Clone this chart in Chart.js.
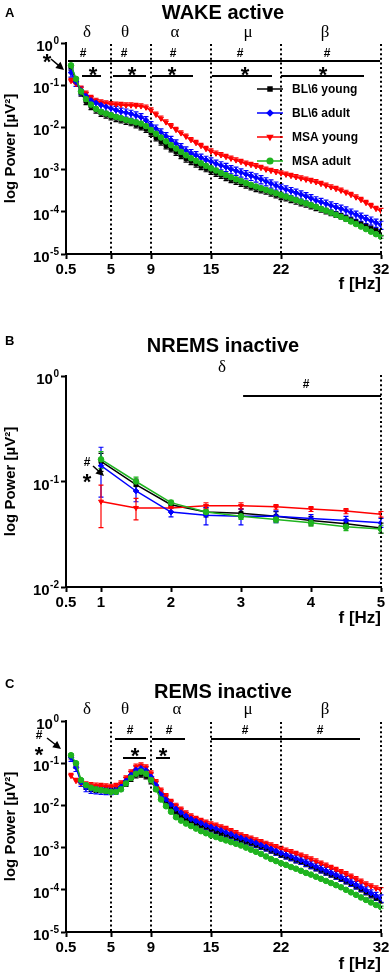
<!DOCTYPE html>
<html>
<head>
<meta charset="utf-8">
<script src="https://cdn.jsdelivr.net/npm/chart.js@4.4.1/dist/chart.umd.min.js"></script>
<style>
  html, body { margin: 0; padding: 0; background: #fff; }
  .panel { position: absolute; left: 0; width: 392px; }
  canvas { display: block; }
</style>
</head>
<body>
<div class="panel" style="top:0;height:300px"><canvas id="cA" width="392" height="300"></canvas></div>
<div class="panel" style="top:300px;height:340px"><canvas id="cB" width="392" height="340"></canvas></div>
<div class="panel" style="top:640px;height:337px"><canvas id="cC" width="392" height="337"></canvas></div>
<script>
// ---- data (power values as log10) ----
const seriesNames = ['BL\\6 young', 'BL\\6 adult', 'MSA young', 'MSA adult'];

const freqs = [1, 1.5, 2, 2.5, 3, 3.5, 4, 4.5, 5, 5.5,
  6, 6.5, 7, 7.5, 8, 8.5, 9, 9.5, 10, 10.5,
  11, 11.5, 12, 12.5, 13, 13.5, 14, 14.5, 15, 15.5,
  16, 16.5, 17, 17.5, 18, 18.5, 19, 19.5, 20, 20.5,
  21, 21.5, 22, 22.5, 23, 23.5, 24, 24.5, 25, 25.5,
  26, 26.5, 27, 27.5, 28, 28.5, 29, 29.5, 30, 30.5,
  31, 31.5, 32];
const freqsB = [1, 1.5, 2, 2.5, 3, 3.5, 4, 4.5, 5];

const xTicksAC = [0.5, 5, 9, 15, 22, 32];
const xTicksB = [0.5, 1, 2, 3, 4, 5];
const yTicksAC = [1, 0.1, 0.01, 0.001, 0.0001, 0.00001];
const yTicksB = [1, 0.1, 0.01];

// WAKE active
const wakeBL6Young = [-0.56, -0.88, -1.18, -1.38, -1.50, -1.58, -1.66, -1.70, -1.74, -1.78,
  -1.81, -1.85, -1.88, -1.93, -1.98, -2.04, -2.13, -2.24, -2.34, -2.43,
  -2.50, -2.58, -2.66, -2.74, -2.80, -2.86, -2.92, -2.97, -3.03, -3.08,
  -3.13, -3.18, -3.23, -3.27, -3.32, -3.36, -3.40, -3.44, -3.47, -3.50,
  -3.55, -3.59, -3.63, -3.66, -3.70, -3.74, -3.78, -3.81, -3.85, -3.89,
  -3.93, -3.97, -4.01, -4.05, -4.09, -4.14, -4.19, -4.24, -4.29, -4.34,
  -4.39, -4.44, -4.49];
const wakeBL6Adult = [-0.70, -0.92, -1.12, -1.26, -1.36, -1.42, -1.47, -1.51, -1.55, -1.59,
  -1.63, -1.65, -1.68, -1.72, -1.76, -1.83, -1.95, -2.03, -2.12, -2.21,
  -2.30, -2.38, -2.47, -2.55, -2.61, -2.66, -2.72, -2.77, -2.81, -2.86,
  -2.90, -2.94, -2.99, -3.03, -3.07, -3.11, -3.15, -3.19, -3.23, -3.28,
  -3.33, -3.38, -3.43, -3.47, -3.51, -3.55, -3.59, -3.63, -3.68, -3.73,
  -3.77, -3.81, -3.85, -3.89, -3.93, -3.97, -4.02, -4.07, -4.12, -4.17,
  -4.21, -4.26, -4.31];
const wakeMSAYoung = [-0.90, -0.97, -1.08, -1.20, -1.30, -1.37, -1.41, -1.43, -1.45, -1.46,
  -1.47, -1.48, -1.48, -1.49, -1.50, -1.53, -1.60, -1.70, -1.79, -1.88,
  -1.97, -2.06, -2.14, -2.22, -2.30, -2.37, -2.44, -2.51, -2.57, -2.62,
  -2.66, -2.70, -2.74, -2.78, -2.82, -2.86, -2.89, -2.92, -2.96, -3.00,
  -3.03, -3.06, -3.09, -3.12, -3.15, -3.18, -3.21, -3.24, -3.27, -3.30,
  -3.34, -3.38, -3.42, -3.46, -3.50, -3.55, -3.60, -3.66, -3.72, -3.79,
  -3.86, -3.93, -3.98];
const wakeMSAAdult = [-0.53, -0.85, -1.15, -1.33, -1.46, -1.56, -1.63, -1.67, -1.71, -1.75,
  -1.78, -1.82, -1.85, -1.88, -1.91, -1.97, -2.06, -2.15, -2.24, -2.33,
  -2.42, -2.50, -2.58, -2.66, -2.73, -2.79, -2.85, -2.91, -2.97, -3.02,
  -3.08, -3.13, -3.18, -3.23, -3.27, -3.32, -3.36, -3.40, -3.44, -3.48,
  -3.52, -3.56, -3.60, -3.64, -3.68, -3.72, -3.76, -3.80, -3.84, -3.88,
  -3.93, -3.97, -4.02, -4.07, -4.12, -4.17, -4.23, -4.29, -4.35, -4.41,
  -4.47, -4.53, -4.59];

// NREMS inactive
const nremBL6Young = [-0.81, -1.03, -1.22, -1.29, -1.30, -1.33, -1.37, -1.40, -1.44];
const nremBL6Adult = [-0.85, -1.09, -1.29, -1.32, -1.33, -1.33, -1.35, -1.37, -1.39];
const nremMSAYoung = [-1.19, -1.25, -1.25, -1.23, -1.23, -1.24, -1.26, -1.28, -1.31];
const nremMSAAdult = [-0.79, -1.00, -1.20, -1.29, -1.33, -1.36, -1.39, -1.43, -1.45];
// NREMS standard errors (linear units)
const nremSemBL6Young = [0.030, 0.012, 0.004, 0.005, 0.005, 0.005, 0.004, 0.004, 0.004];
const nremSemBL6Adult = [0.070, 0.017, 0.005, 0.009, 0.008, 0.006, 0.004, 0.004, 0.004];
const nremSemMSAYoung = [0.028, 0.013, 0.004, 0.004, 0.004, 0.003, 0.003, 0.003, 0.003];
const nremSemMSAAdult = [0.030, 0.010, 0.003, 0.003, 0.003, 0.003, 0.003, 0.003, 0.003];

// REMS inactive
const remBL6Young = [-0.83, -1.05, -1.42, -1.55, -1.60, -1.62, -1.63, -1.64, -1.64, -1.63,
  -1.58, -1.48, -1.36, -1.28, -1.26, -1.30, -1.42, -1.60, -1.78, -1.92,
  -2.04, -2.14, -2.24, -2.31, -2.37, -2.42, -2.47, -2.51, -2.56, -2.60,
  -2.64, -2.68, -2.72, -2.77, -2.81, -2.85, -2.89, -2.93, -2.97, -3.01,
  -3.06, -3.11, -3.16, -3.20, -3.24, -3.29, -3.33, -3.38, -3.43, -3.48,
  -3.53, -3.58, -3.63, -3.68, -3.73, -3.79, -3.85, -3.91, -3.98, -4.05,
  -4.12, -4.18, -4.24];
const remBL6Adult = [-0.86, -1.10, -1.45, -1.58, -1.62, -1.63, -1.64, -1.65, -1.65, -1.64,
  -1.56, -1.42, -1.28, -1.16, -1.12, -1.17, -1.32, -1.52, -1.74, -1.86,
  -1.98, -2.08, -2.17, -2.25, -2.32, -2.37, -2.42, -2.47, -2.51, -2.55,
  -2.59, -2.64, -2.68, -2.73, -2.77, -2.81, -2.85, -2.89, -2.94, -2.98,
  -3.03, -3.08, -3.13, -3.17, -3.21, -3.26, -3.30, -3.35, -3.40, -3.45,
  -3.50, -3.55, -3.60, -3.65, -3.70, -3.76, -3.82, -3.88, -3.94, -4.01,
  -4.08, -4.14, -4.20];
const remMSAYoung = [-1.30, -1.42, -1.48, -1.50, -1.52, -1.53, -1.54, -1.55, -1.56, -1.54,
  -1.48, -1.36, -1.22, -1.08, -1.05, -1.10, -1.24, -1.45, -1.65, -1.78,
  -1.92, -2.01, -2.10, -2.19, -2.26, -2.32, -2.37, -2.41, -2.45, -2.48,
  -2.52, -2.56, -2.61, -2.66, -2.71, -2.75, -2.79, -2.83, -2.87, -2.91,
  -2.95, -2.99, -3.03, -3.07, -3.11, -3.15, -3.19, -3.23, -3.28, -3.33,
  -3.38, -3.43, -3.48, -3.53, -3.58, -3.63, -3.69, -3.75, -3.81, -3.87,
  -3.92, -3.97, -4.01];
const remMSAAdult = [-0.81, -1.00, -1.40, -1.52, -1.58, -1.62, -1.64, -1.66, -1.68, -1.68,
  -1.62, -1.48, -1.35, -1.25, -1.20, -1.25, -1.40, -1.62, -1.86, -2.02,
  -2.15, -2.28, -2.36, -2.43, -2.49, -2.55, -2.61, -2.66, -2.71, -2.75,
  -2.79, -2.83, -2.87, -2.91, -2.95, -3.00, -3.05, -3.10, -3.15, -3.21,
  -3.27, -3.32, -3.37, -3.41, -3.46, -3.50, -3.55, -3.60, -3.64, -3.69,
  -3.74, -3.79, -3.84, -3.89, -3.94, -4.00, -4.06, -4.12, -4.18, -4.24,
  -4.30, -4.36, -4.41];

// relative SEM per group (wake, rem), estimated from error bar lengths
const wakeSemFrac = [0.17, 0.22, 0.15, 0.08];
const remSemFrac = [0.15, 0.20, 0.15, 0.06];

// frequency bands and significance marks (Hz)
const bandEdges = [5, 9, 15, 22, 32];
const bandNames = ['δ', 'θ', 'α', 'μ', 'β'];
const wakeBandAt = [2.6, 6.4, 11.4, 18.7, 26.4];
const remBandAt = [2.6, 6.4, 11.6, 18.7, 26.4];
const wakeHashBars = [[0.7, 31.9]];
const wakeHashAt = [2.2, 6.3, 11.2, 17.9, 26.6];
const wakeStarBars = [[2.1, 4.0], [5.2, 8.5], [9.1, 13.2], [15.1, 21.1], [22.0, 30.3]];
const wakeStarAt = [3.2, 7.1, 11.1, 18.4, 26.2];
const nremHashBars = [[3.03, 5.0]];
const nremHashAt = [3.93];
const remHashBars = [[5.4, 8.7], [9.1, 12.4], [15.0, 29.9]];
const remHashAt = [6.9, 10.8, 18.4, 25.9];
const remStarBars = [[6.2, 8.5], [9.5, 10.9]];
const remStarAt = [7.4, 10.2];

// ---- styling ----
const COLORS = ['#000000', '#0000ff', '#ff0000', '#1fb41f'];
const STYLES = ['rect', 'rectRot', 'triangle', 'circle'];
const ROTS = [0, 0, 180, 0];
const ORDERS = [3, 1, 2, 0];
const ERR_DIR = [-1, 0, 1, 0];   // -1 down only, 1 up only, 0 both
const FONT = '"Liberation Sans", Arial, sans-serif';
Chart.defaults.font.family = FONT;
Chart.defaults.color = '#000';

function series(i, xs, lg, sem) {
  const vals = lg.map(v => Math.pow(10, v));
  return {
    label: seriesNames[i],
    data: xs.map((x, j) => ({ x: x, y: vals[j] })),
    borderColor: COLORS[i], backgroundColor: COLORS[i],
    borderWidth: 1.5, pointRadius: 2.8, pointBorderWidth: 1,
    pointStyle: STYLES[i], pointRotation: ROTS[i],
    tension: 0, order: ORDERS[i],
    sem: Array.isArray(sem) ? sem : vals.map(v => v * sem),
    errDir: ERR_DIR[i]
  };
}

const errorBars = {
  id: 'errorBars',
  beforeDatasetsDraw(chart) {
    const { ctx, scales: { y } } = chart;
    ctx.save();
    ctx.lineWidth = 1.2;
    chart.data.datasets.forEach((ds, i) => {
      const meta = chart.getDatasetMeta(i);
      ctx.strokeStyle = ds.borderColor;
      meta.data.forEach((pt, j) => {
        const v = ds.data[j].y, s = ds.sem[j];
        const yTop = ds.errDir >= 0 ? y.getPixelForValue(v + s) : pt.y;
        const yBot = ds.errDir <= 0 ? y.getPixelForValue(Math.max(v - s, 1e-9)) : pt.y;
        ctx.beginPath();
        ctx.moveTo(pt.x, yTop); ctx.lineTo(pt.x, yBot);
        if (ds.errDir >= 0) { ctx.moveTo(pt.x - 2.5, yTop); ctx.lineTo(pt.x + 2.5, yTop); }
        if (ds.errDir <= 0) { ctx.moveTo(pt.x - 2.5, yBot); ctx.lineTo(pt.x + 2.5, yBot); }
        ctx.stroke();
      });
    });
    ctx.restore();
  }
};

// y tick labels as 10 with a raised exponent
const yLabels = {
  id: 'yLabels',
  afterDraw(chart) {
    const { ctx, chartArea, scales: { y } } = chart;
    ctx.save();
    ctx.fillStyle = '#000'; ctx.textAlign = 'right'; ctx.textBaseline = 'alphabetic';
    y.ticks.forEach(t => {
      const py = y.getPixelForValue(t.value);
      const e = Math.round(Math.log10(t.value));
      const exp = e === 0 ? '0' : '-' + (-e);
      const xr = chartArea.left - 7;
      ctx.font = 'bold 10px ' + FONT;
      ctx.fillText(exp, xr, py + 1);
      const w = ctx.measureText(exp).width;
      ctx.font = 'bold 15px ' + FONT;
      ctx.fillText('10', xr - w - 0.5, py + 8);
    });
    ctx.restore();
  }
};

function arrow(ctx, x1, y1, x2, y2) {
  const a = Math.atan2(y2 - y1, x2 - x1), L = 8, W = 4;
  ctx.beginPath(); ctx.moveTo(x1, y1); ctx.lineTo(x2 - Math.cos(a) * L * 0.6, y2 - Math.sin(a) * L * 0.6); ctx.stroke();
  ctx.beginPath();
  ctx.moveTo(x2, y2);
  ctx.lineTo(x2 - Math.cos(a) * L + Math.sin(a) * W, y2 - Math.sin(a) * L - Math.cos(a) * W);
  ctx.lineTo(x2 - Math.cos(a) * L - Math.sin(a) * W, y2 - Math.sin(a) * L + Math.cos(a) * W);
  ctx.closePath(); ctx.fill();
}

function makeDecor(p) {
  return {
    id: 'decor',
    beforeDatasetsDraw(chart) {
      const { ctx, chartArea: a, scales: { x } } = chart;
      ctx.save();
      ctx.strokeStyle = '#000'; ctx.lineWidth = 2; ctx.setLineDash([2, 2.6]);
      p.edges.forEach(f => {
        const px = Math.round(x.getPixelForValue(f));
        ctx.beginPath(); ctx.moveTo(px, p.dotTop); ctx.lineTo(px, a.bottom); ctx.stroke();
      });
      ctx.restore();
    },
    afterDraw(chart) {
      const { ctx, chartArea: a, scales: { x } } = chart;
      const X = f => x.getPixelForValue(f);
      ctx.save();
      ctx.fillStyle = '#000'; ctx.strokeStyle = '#000'; ctx.textBaseline = 'alphabetic';
      ctx.font = 'bold 13px ' + FONT; ctx.textAlign = 'left';
      ctx.fillText(p.letter, 5, p.letterY);
      ctx.font = 'bold 20px ' + FONT; ctx.textAlign = 'center';
      ctx.fillText(p.title, 223, p.titleY);
      ctx.font = '17px "Liberation Serif", serif';
      p.greekAt.forEach((f, i) => ctx.fillText(p.greek[i], X(f), p.greekY));
      ctx.lineWidth = 2;
      p.hashBars.forEach(([f1, f2]) => { ctx.beginPath(); ctx.moveTo(X(f1), p.hashLineY); ctx.lineTo(X(f2), p.hashLineY); ctx.stroke(); });
      (p.starBars || []).forEach(([f1, f2]) => { ctx.beginPath(); ctx.moveTo(X(f1), p.starLineY); ctx.lineTo(X(f2), p.starLineY); ctx.stroke(); });
      ctx.font = 'bold 12px ' + FONT;
      p.hashAt.forEach(f => ctx.fillText('#', X(f), p.hashTextY));
      ctx.font = 'bold 22px ' + FONT;
      (p.starAt || []).forEach(f => ctx.fillText('*', X(f), p.starTextY));
      // arrow pointing at the first bin
      ctx.lineWidth = 1.5;
      p.arrowMarks.forEach(([t, mx, my, sz]) => { ctx.font = 'bold ' + sz + 'px ' + FONT; ctx.fillText(t, mx, my); });
      arrow(ctx, p.arrow[0], p.arrow[1], p.arrow[2], p.arrow[3]);
      if (p.legend) {
        chart.data.datasets.forEach((ds, i) => {
          const ly = p.legendY[i], lx = a.left + 191;
          ctx.strokeStyle = ds.borderColor; ctx.fillStyle = ds.borderColor; ctx.lineWidth = 1.5;
          ctx.beginPath(); ctx.moveTo(lx, ly); ctx.lineTo(lx + 26, ly); ctx.stroke();
          Chart.helpers.drawPoint(ctx, { pointStyle: ds.pointStyle, rotation: ds.pointRotation, radius: 2.8, borderWidth: 1 }, lx + 13, ly);
          ctx.fillStyle = '#000'; ctx.textAlign = 'left'; ctx.textBaseline = 'middle';
          ctx.font = 'bold 12px ' + FONT;
          ctx.fillText(ds.label, lx + 35, ly + 1);
        });
      }
      ctx.restore();
    }
  };
}

function buildChart(id, p) {
  const cv = document.getElementById(id);
  const H = cv.height;
  const axisGrid = { drawOnChartArea: false, drawTicks: true, tickLength: 5, tickColor: '#000', tickWidth: 2, color: '#000' };
  return new Chart(cv, {
    type: 'line',
    data: { datasets: p.datasets },
    options: {
      responsive: false, animation: false, events: [],
      layout: { padding: { top: p.top, right: 11, left: 0, bottom: 0 } },
      plugins: { legend: { display: false }, tooltip: { enabled: false } },
      scales: {
        x: {
          type: 'linear', min: p.xMin, max: p.xMax,
          afterBuildTicks: s => { s.ticks = p.xTicks.map(v => ({ value: v })); },
          afterFit: s => { s.height = H - p.bottom; },
          border: { color: '#000', width: 2 },
          grid: axisGrid,
          ticks: { color: '#000', font: { size: 15, weight: 'bold' }, autoSkip: false, maxRotation: 0, padding: 2, callback: v => String(v) },
          title: { display: true, text: 'f [Hz]', align: 'end', color: '#000', font: { size: 17, weight: 'bold' }, padding: { top: 0, bottom: p.titlePad } }
        },
        y: {
          type: 'logarithmic', min: p.yMin, max: 1,
          afterBuildTicks: s => { s.ticks = p.yTicks.map(v => ({ value: v })); },
          afterFit: s => { s.width = 66; },
          border: { color: '#000', width: 2 },
          grid: axisGrid,
          ticks: { display: false },
          title: { display: true, text: 'log Power [µV²]', color: '#000', font: { size: 15, weight: 'bold' }, padding: { top: 2, bottom: 0 } }
        }
      }
    },
    plugins: [errorBars, makeDecor(p), yLabels]
  });
}

buildChart('cA', {
  top: 43, bottom: 254, titlePad: 5, xMin: 0.5, xMax: 32, xTicks: xTicksAC, yMin: 1e-5, yTicks: yTicksAC,
  datasets: [
    series(0, freqs, wakeBL6Young, wakeSemFrac[0]),
    series(1, freqs, wakeBL6Adult, wakeSemFrac[1]),
    series(2, freqs, wakeMSAYoung, wakeSemFrac[2]),
    series(3, freqs, wakeMSAAdult, wakeSemFrac[3])
  ],
  letter: 'A', letterY: 17, title: 'WAKE active', titleY: 19,
  greek: bandNames, greekAt: wakeBandAt, greekY: 37,
  edges: bandEdges, dotTop: 44,
  hashBars: wakeHashBars, hashLineY: 61, hashAt: wakeHashAt, hashTextY: 57,
  starBars: wakeStarBars, starLineY: 76, starAt: wakeStarAt, starTextY: 82,
  arrowMarks: [['*', 47, 69, 22]], arrow: [51, 59, 64, 70],
  legend: true, legendY: [89, 113, 137, 161]
});

buildChart('cB', {
  top: 76, bottom: 287, titlePad: 11, xMin: 0.5, xMax: 5, xTicks: xTicksB, yMin: 0.01, yTicks: yTicksB,
  datasets: [
    series(0, freqsB, nremBL6Young, nremSemBL6Young),
    series(1, freqsB, nremBL6Adult, nremSemBL6Adult),
    series(2, freqsB, nremMSAYoung, nremSemMSAYoung),
    series(3, freqsB, nremMSAAdult, nremSemMSAAdult)
  ].map(d => Object.assign(d, { errDir: 0 })),
  letter: 'B', letterY: 45, title: 'NREMS inactive', titleY: 52,
  greek: ['δ'], greekAt: [2.73], greekY: 72,
  edges: [5], dotTop: 75,
  hashBars: nremHashBars, hashLineY: 96, hashAt: nremHashAt, hashTextY: 88,
  arrowMarks: [['#', 87, 166, 12], ['*', 87, 189, 22]], arrow: [93, 166, 104, 176],
  legend: false
});

buildChart('cC', {
  top: 81, bottom: 292, titlePad: 2, xMin: 0.5, xMax: 32, xTicks: xTicksAC, yMin: 1e-5, yTicks: yTicksAC,
  datasets: [
    series(0, freqs, remBL6Young, remSemFrac[0]),
    series(1, freqs, remBL6Adult, remSemFrac[1]),
    series(2, freqs, remMSAYoung, remSemFrac[2]),
    series(3, freqs, remMSAAdult, remSemFrac[3])
  ],
  letter: 'C', letterY: 48, title: 'REMS inactive', titleY: 58,
  greek: bandNames, greekAt: remBandAt, greekY: 74,
  edges: bandEdges, dotTop: 82,
  hashBars: remHashBars, hashLineY: 99, hashAt: remHashAt, hashTextY: 94,
  starBars: remStarBars, starLineY: 118, starAt: remStarAt, starTextY: 123,
  arrowMarks: [['#', 39, 99, 12], ['*', 39, 122, 22]], arrow: [47, 98, 61, 109],
  legend: false
});
</script>
</body>
</html>
